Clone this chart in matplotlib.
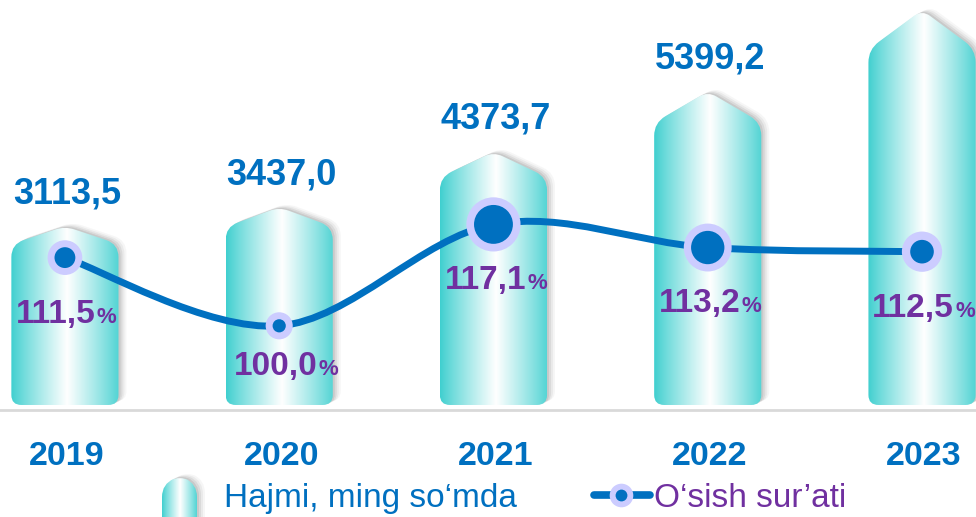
import numpy as np
import matplotlib.pyplot as plt
from matplotlib.path import Path
from matplotlib.patches import PathPatch
from matplotlib.lines import Line2D
from matplotlib.colors import to_rgb

plt.rcParams['font.family'] = ['Liberation Sans', 'DejaVu Sans']

# data
years = ['2019', '2020', '2021', '2022', '2023']
volume = [3113.5, 3437.0, 4373.7, 5399.2, 6780.0]   # 2023 label is cut off in the source
growth = [111.5, 100.0, 117.1, 113.2, 112.5]
legend_labels = ['Hajmi, ming so\u2018mda', 'O\u2018sish sur\u2019ati']

BLUE = '#0070C0'
PURPLE = '#7030A0'
LAVENDER = '#CCCCFF'
TEAL = '#3ECFCF'

W, H = 976, 517
fig = plt.figure(figsize=(W / 100, H / 100), dpi=100)
ax = fig.add_axes([0, 0, 1, 1])
ax.set_xlim(-0.303, 4.252)
ax.set_ylim(-1814, 6949)
ax.set_autoscale_on(False)
ax.axis('off')

ax2 = ax.twinx()
ax2.set_position([0, 0, 1, 1])
ax2.set_ylim(67.76, 154.94)
ax2.set_autoscale_on(False)
ax2.axis('off')

x = np.arange(len(years))
bar_w = 0.5

MOVETO, LINETO, CURVE3, CLOSE = Path.MOVETO, Path.LINETO, Path.CURVE3, Path.CLOSEPOLY


def toward(p, q, d):
    v = np.subtract(q, p)
    v = v / np.hypot(*v)
    return tuple(np.add(p, v * d))


def bar_verts(cx, L, R, top, bottom, roof, rc=13, rp=10, rb=10):
    S = top - roof
    verts = [(L, bottom + rb), (L, S - rc), (L, S), toward((L, S), (cx, top), rc),
             toward((cx, top), (L, S), rp), (cx, top), toward((cx, top), (R, S), rp),
             toward((R, S), (cx, top), rc), (R, S), (R, S - rc),
             (R, bottom + rb), (R, bottom), (R - rb, bottom),
             (L + rb, bottom), (L, bottom), (L, bottom + rb), (L, bottom + rb)]
    codes = [MOVETO, LINETO, CURVE3, CURVE3, LINETO, CURVE3, CURVE3, LINETO,
             CURVE3, CURVE3, LINETO, CURVE3, CURVE3, LINETO, CURVE3, CURVE3, CLOSE]
    return np.array(verts, float), codes


# horizontal gradient: teal edges, white highlight
t = np.linspace(0, 1, 300)
f = np.clip(1 - np.abs(t - 0.52) / 0.52, 0, 1) ** 0.9
edge = np.array(to_rgb(TEAL))
grad = edge[None, :] * (1 - f[:, None]) + f[:, None]
img = np.tile(grad[None, :, :], (2, 1, 1))

inv = ax.transData.inverted()


def draw_bar(cx_px, L, R, top, bottom, roof, rb=10):
    verts, codes = bar_verts(cx_px, L, R, top, bottom, roof, rb=rb)
    # soft shadow to the right
    for dx, dy, a in [(2, 1, 0.14), (4, 2, 0.11), (6, 3, 0.08), (8, 4, 0.05)]:
        sh = PathPatch(Path(inv.transform(verts + [dx, dy]), codes),
                       facecolor='#606060', edgecolor='none', alpha=a, zorder=1)
        ax.add_patch(sh)
    patch = PathPatch(Path(inv.transform(verts), codes), facecolor='none',
                      edgecolor='none', zorder=2)
    ax.add_patch(patch)
    (x0, y0), (x1, y1) = inv.transform([(L, bottom), (R, top)])
    im = ax.imshow(img, extent=(x0, x1, y0, y1), aspect='auto', zorder=2,
                   interpolation='bilinear')
    im.set_clip_path(patch)


base_px = ax.transData.transform((0, 0))[1]
for i, v in enumerate(volume):
    cx_px, top_px = ax.transData.transform((x[i], v))
    L = ax.transData.transform((x[i] - bar_w / 2, 0))[0]
    R = ax.transData.transform((x[i] + bar_w / 2, 0))[0]
    bottom_px = base_px + 5
    draw_bar(cx_px, L, R, top_px, bottom_px, 0.1 * (top_px - bottom_px))
    if top_px + 50 < H:  # the source crops the top label off
        ax.annotate(f'{v:.1f}'.replace('.', ','), (x[i], v), xytext=(2, 23),
                    textcoords='offset pixels', ha='center', va='baseline',
                    fontsize=26, fontweight='bold', color=BLUE, zorder=4)
    ax.text(x[i] + 0.01, 1 - 465 / H, years[i], transform=ax.get_xaxis_transform(),
            ha='center', va='baseline', fontsize=24.5, fontweight='bold', color=BLUE)

ax.axhline(0, color='#D9D9D9', lw=2, zorder=0.5)

# smoothed growth line (Catmull-Rom through the points, in screen space)
P = ax2.transData.transform(np.column_stack([x, growth]))
Pe = np.vstack([P[0], P, P[-1]])
verts = [P[0]]
codes = [MOVETO]
for k in range(len(P) - 1):
    p0, p1, p2, p3 = Pe[k], Pe[k + 1], Pe[k + 2], Pe[k + 3]
    verts += [p1 + (p2 - p0) / 6, p2 - (p3 - p1) / 6, p2]
    codes += [Path.CURVE4] * 3
inv2 = ax2.transData.inverted()
ax2.add_patch(PathPatch(Path(inv2.transform(np.array(verts)), codes), fill=False,
                        edgecolor=BLUE, lw=5, capstyle='round', zorder=3))

outer = [25, 19.5, 39, 34.5, 29]
inner = [15, 9.5, 28, 24, 17]
ax2.scatter(x, growth, s=np.square(outer), color=LAVENDER, linewidths=0, zorder=4)
ax2.scatter(x, growth, s=np.square(inner), color=BLUE, linewidths=0, zorder=5)

label_drop = [65, 49, 65, 64, 65]
label_dx = [0, 7, 2, 2, 1]
for i, g in enumerate(growth):
    split = 31 + label_dx[i]
    ax2.annotate(f'{g:.1f}'.replace('.', ','), (x[i], g), xytext=(split, -label_drop[i]),
                 textcoords='offset pixels', ha='right', va='baseline',
                 fontsize=24, fontweight='bold', color=PURPLE, zorder=6)
    ax2.annotate('%', (x[i], g), xytext=(split + 1, -label_drop[i]),
                 textcoords='offset pixels', ha='left', va='baseline',
                 fontsize=16, fontweight='bold', color=PURPLE, zorder=6)

# legend drawn by hand
draw_bar(180, 162, 197, H - 476, -20, 8, rb=0)
fig.text(224 / W, 1 - 507 / H, legend_labels[0], ha='left', va='baseline',
         fontsize=24, color=BLUE)
ly = 1 - 495 / H
fig.add_artist(Line2D([594 / W, 650 / W], [ly, ly], transform=fig.transFigure,
                      color=BLUE, lw=5.5, solid_capstyle='round'))
fig.add_artist(Line2D([621 / W], [ly], transform=fig.transFigure, marker='o',
                      markersize=17, markerfacecolor=LAVENDER, markeredgewidth=0))
fig.add_artist(Line2D([621 / W], [ly], transform=fig.transFigure, marker='o',
                      markersize=8.5, markerfacecolor=BLUE, markeredgewidth=0))
fig.text(654 / W, 1 - 507 / H, legend_labels[1], ha='left', va='baseline',
         fontsize=24, color=PURPLE)

ax.set_xlim(-0.303, 4.252)
ax.set_ylim(-1814, 6949)
fig.savefig('out.png', dpi=100)
